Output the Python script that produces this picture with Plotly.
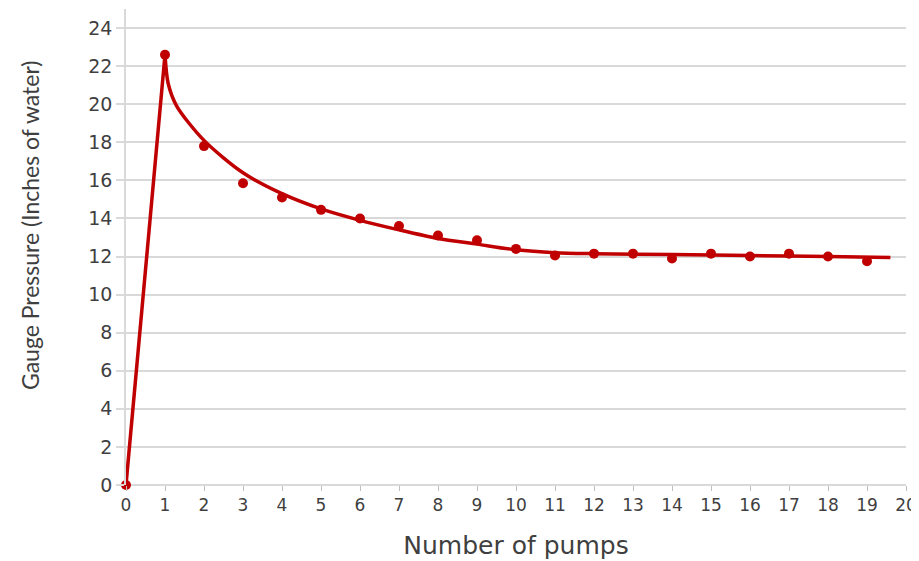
import plotly.graph_objects as go

# Measured data points
pumps = [0, 1, 2, 3, 4, 5, 6, 7, 8, 9, 10, 11, 12, 13, 14, 15, 16, 17, 18, 19]
pressure = [0, 22.6, 17.8, 15.85, 15.1, 14.45, 14.0, 13.6, 13.1, 12.85, 12.4, 12.05, 12.15, 12.15, 11.9, 12.15, 12.0, 12.15, 12.0, 11.75]

# Rising segment (0 -> 1 pump)
rise_x = [0, 1]
rise_y = [0, 22.6]

# Smooth fitted curve
fit_x = [1, 1.08, 1.3, 2, 3, 4, 5, 6, 7, 8, 9, 10, 11, 12, 14, 16, 18, 19.6]
fit_y = [22.6, 21.1, 19.9, 18.1, 16.4, 15.3, 14.5, 13.9, 13.4, 12.95, 12.65, 12.35, 12.2, 12.15, 12.1, 12.05, 12.0, 11.95]

x_ticks = list(range(0, 21))
y_ticks = list(range(0, 25, 2))

x_title = "Number of pumps"
y_title = "Gauge Pressure (Inches of water)"

red = "#C00000"
text_color = "#3f3f3f"
wide_font = "'DejaVu Sans', Verdana, sans-serif"

fig = go.Figure()
fig.add_trace(go.Scatter(x=rise_x, y=rise_y, mode="lines", cliponaxis=False,
                         line=dict(color=red, width=3.5), showlegend=False, hoverinfo="skip"))
fig.add_trace(go.Scatter(x=fit_x, y=fit_y, mode="lines", cliponaxis=False,
                         line=dict(color=red, width=3.5, shape="spline", smoothing=0.8),
                         showlegend=False, hoverinfo="skip"))
fig.add_trace(go.Scatter(x=pumps, y=pressure, mode="markers", cliponaxis=False,
                         marker=dict(color=red, size=10), showlegend=False))

fig.update_layout(
    width=911, height=553,
    margin=dict(l=118, r=13, t=1, b=76),
    paper_bgcolor="white", plot_bgcolor="white",
    font=dict(family=wide_font, color=text_color),
    xaxis=dict(range=[0, 20], tickvals=x_ticks, ticktext=[str(v) for v in x_ticks],
               automargin=False,
               showgrid=False, zeroline=False, showline=False,
               ticks="outside", ticklen=5, tickcolor="#bfbfbf", tickwidth=1,
               tickfont=dict(size=17, color=text_color, family=wide_font),
               title=dict(text=x_title, font=dict(size=25, color=text_color, family=wide_font), standoff=22)),
    yaxis=dict(range=[0, 25], tickvals=y_ticks, ticktext=[str(v) for v in y_ticks],
               automargin=False,
               showgrid=True, gridcolor="#d9d9d9", gridwidth=1.5,
               zeroline=True, zerolinecolor="#d9d9d9", zerolinewidth=1.5,
               showline=True, linecolor="#d9d9d9", linewidth=1.5,
               ticks="outside", ticklen=8, tickcolor="#d9d9d9", tickwidth=1.5,
               tickfont=dict(size=19, color=text_color, family=wide_font)),
    annotations=[dict(text=y_title, textangle=-90, xref="paper", yref="paper",
                      x=0, y=0.546, xanchor="center", yanchor="middle", xshift=-96,
                      showarrow=False,
                      font=dict(size=23, color=text_color, family="Lato, 'Open Sans', sans-serif"))],
)

fig.write_html("out.html")
